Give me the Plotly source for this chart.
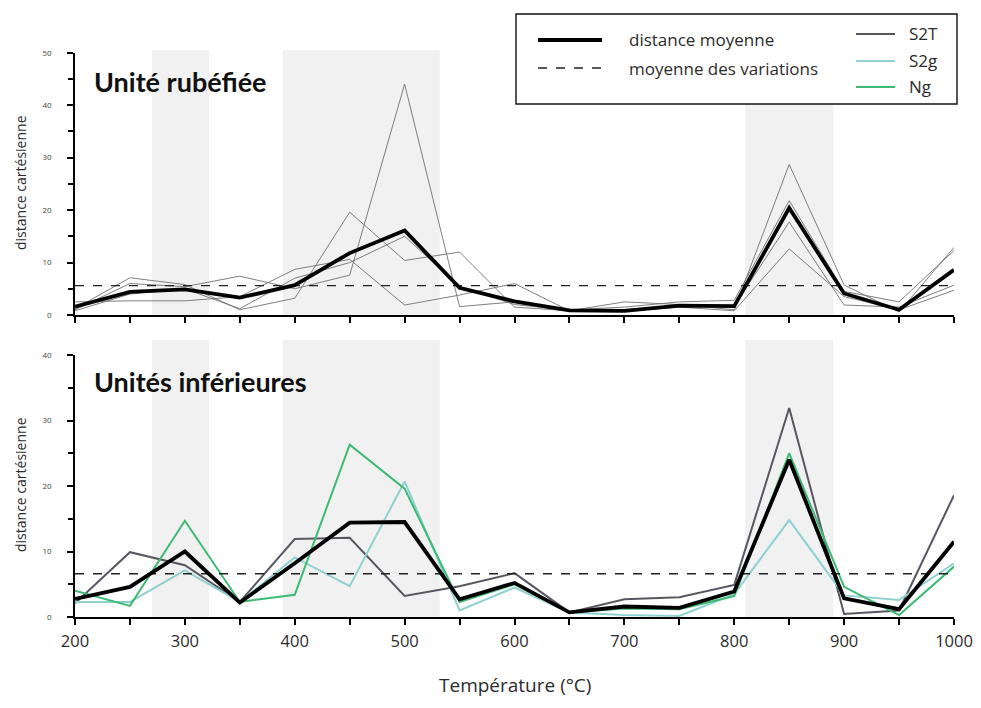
import plotly.graph_objects as go

# temperatures (°C)
temp = list(range(200, 1001, 50))

# Unité rubéfiée : individual samples (thin grey) and mean distance
rub_a = [1.2, 7.1, 5.8, 1.0, 3.2, 19.6, 10.4, 12.0, 1.5, 0.8, 2.5, 2.0, 1.0, 28.7, 5.7, 0.6, 12.9]
rub_b = [1.0, 6.0, 5.4, 7.4, 5.0, 7.6, 44.0, 1.6, 2.5, 1.0, 1.5, 2.5, 2.8, 21.8, 4.5, 2.5, 12.3]
rub_c = [2.5, 2.7, 2.7, 3.5, 8.7, 10.6, 1.9, 3.8, 6.0, 0.8, 1.0, 1.8, 1.7, 17.7, 1.9, 1.5, 5.7]
rub_d = [0.8, 4.0, 5.0, 1.2, 7.0, 10.0, 15.0, 5.4, 2.0, 0.9, 0.7, 1.5, 0.8, 12.6, 3.5, 1.0, 4.7]
rub_mean = [1.6, 4.4, 4.9, 3.3, 5.7, 11.8, 16.1, 5.2, 2.6, 0.9, 0.8, 1.8, 1.7, 20.4, 4.1, 1.0, 8.6]
rub_var = 5.6

# Unités inférieures
s2t = [2.1, 9.9, 7.9, 2.3, 11.9, 12.1, 3.2, 4.7, 6.7, 0.7, 2.7, 3.0, 4.9, 31.9, 0.45, 1.0, 18.6]
s2g = [2.3, 2.3, 7.1, 2.3, 9.1, 4.7, 20.7, 1.0, 4.5, 0.7, 0.3, 0.15, 3.5, 14.8, 3.3, 2.6, 8.2]
ng = [4.0, 1.7, 14.7, 2.3, 3.4, 26.3, 19.6, 2.3, 5.0, 0.7, 1.3, 1.2, 3.2, 25.0, 4.6, 0.3, 7.7]
inf_mean = [2.75, 4.6, 10.0, 2.2, 8.2, 14.4, 14.5, 2.7, 5.2, 0.7, 1.6, 1.4, 3.9, 24.0, 2.85, 1.2, 11.5]
inf_var = 6.6

# shaded temperature intervals
bands = [(270, 322), (389, 532), (810, 890)]

c_s2t, c_s2g, c_ng = "#575762", "#8fd1d0", "#3dba73"
txt = "#2b2b2b"

fig = go.Figure()

for s in [rub_a, rub_b, rub_c, rub_d]:
    fig.add_trace(go.Scatter(x=temp, y=s, mode="lines", xaxis="x", yaxis="y",
                             line=dict(color="#707070", width=0.9)))
fig.add_trace(go.Scatter(x=[200, 1000], y=[rub_var] * 2, mode="lines", xaxis="x", yaxis="y",
                         line=dict(color="#222", width=1.3, dash="dash")))
fig.add_trace(go.Scatter(x=temp, y=rub_mean, mode="lines", xaxis="x", yaxis="y",
                         line=dict(color="black", width=3.8)))

for s, c in [(s2t, c_s2t), (s2g, c_s2g), (ng, c_ng)]:
    fig.add_trace(go.Scatter(x=temp, y=s, mode="lines", xaxis="x2", yaxis="y2",
                             line=dict(color=c, width=2)))
fig.add_trace(go.Scatter(x=[200, 1000], y=[inf_var] * 2, mode="lines", xaxis="x2", yaxis="y2",
                         line=dict(color="#222", width=1.3, dash="dash")))
fig.add_trace(go.Scatter(x=temp, y=inf_mean, mode="lines", xaxis="x2", yaxis="y2",
                         line=dict(color="black", width=3.8)))

# page has an 8 px body margin: figure occupies screen pixels 8..973 x 8..700
W, H = 965, 692
px = lambda v: (v - 8) / W
py = lambda v: 1 - (v - 8) / H

shapes = []
for x0, x1 in bands:
    shapes.append(dict(type="rect", xref="x", yref="paper", x0=x0, x1=x1, y0=py(316), y1=py(50),
                       fillcolor="#f1f1f1", line_width=0, layer="below"))
    shapes.append(dict(type="rect", xref="x", yref="paper", x0=x0, x1=x1, y0=py(617), y1=py(340),
                       fillcolor="#f1f1f1", line_width=0, layer="below"))

# legend box, drawn by hand
shapes.append(dict(type="rect", xref="paper", yref="paper", x0=px(516), x1=px(957), y0=py(104), y1=py(14),
                   fillcolor="white", line=dict(color="#111", width=1.4), layer="above"))
shapes.append(dict(type="line", xref="paper", yref="paper", x0=px(538), x1=px(602), y0=py(40), y1=py(40),
                   line=dict(color="black", width=4), layer="above"))
shapes.append(dict(type="line", xref="paper", yref="paper", x0=px(538), x1=px(602), y0=py(68), y1=py(68),
                   line=dict(color="#222", width=1.3, dash="dash"), layer="above"))
for yy, c in [(34, c_s2t), (61, c_s2g), (87, c_ng)]:
    shapes.append(dict(type="line", xref="paper", yref="paper", x0=px(856), x1=px(895), y0=py(yy), y1=py(yy),
                       line=dict(color=c, width=2), layer="above"))

ann = []
for t, x, y in [("distance moyenne", 627, 40), ("moyenne des variations", 627, 68),
                ("S2T", 907, 33), ("S2g", 907, 60), ("Ng", 907, 87)]:
    ann.append(dict(text=t, xref="paper", yref="paper", x=px(x), y=py(y), xanchor="left", yanchor="middle",
                    showarrow=False, font=dict(family="Open Sans", size=17, color=txt)))
ann.append(dict(text="<b>Unité rubéfiée</b>", xref="paper", yref="paper", x=px(92), y=py(82),
                xanchor="left", yanchor="middle", showarrow=False,
                font=dict(family="Lato", size=27, color="#111")))
ann.append(dict(text="<b>Unités inférieures</b>", xref="paper", yref="paper", x=px(92), y=py(381),
                xanchor="left", yanchor="middle", showarrow=False,
                font=dict(family="Lato", size=27, color="#111")))
for yc in [183, 485]:
    ann.append(dict(text="distance cartésienne", xref="paper", yref="paper", x=px(20), y=py(yc),
                    textangle=-90, showarrow=False, xanchor="center", yanchor="middle",
                    font=dict(family="Open Sans", size=14, color=txt)))
ann.append(dict(text="Température (°C)", xref="paper", yref="paper", x=px(515), y=py(699),
                showarrow=False, xanchor="center", yanchor="bottom", borderpad=0,
                font=dict(family="Open Sans", size=19, color=txt)))

xcommon = dict(range=[200, 1000], showline=True, linecolor="black", linewidth=1.6, ticks="outside",
               ticklen=6, tickwidth=1.5, tickcolor="black", dtick=100, tick0=200,
               minor=dict(ticks="outside", ticklen=6, dtick=50, tickcolor="black", tickwidth=1.5),
               showgrid=False, zeroline=False, automargin=False, domain=[px(75), px(954)])
ycommon = dict(showline=True, linecolor="black", linewidth=1.6, ticks="outside", ticklen=6, tickwidth=1.5,
               tickcolor="black", dtick=10, showgrid=False, zeroline=False, automargin=False,
               minor=dict(ticks="outside", ticklen=5, dtick=5, tickcolor="black", tickwidth=1.5),
               tickfont=dict(family="Open Sans", size=8, color="#444"), ticklabelstandoff=14)

fig.update_layout(
    width=W, height=H, margin=dict(l=0, r=0, t=0, b=0),
    paper_bgcolor="white", plot_bgcolor="rgba(0,0,0,0)", showlegend=False,
    xaxis=dict(xcommon, anchor="y", showticklabels=False),
    yaxis=dict(ycommon, range=[0, 50], domain=[py(315), py(52.7)], anchor="x"),
    xaxis2=dict(xcommon, anchor="y2", tickfont=dict(family="Open Sans", size=16.5, color=txt),
                ticklabelstandoff=2, ticklabeloverflow="allow"),
    yaxis2=dict(ycommon, range=[0, 40], domain=[py(617), py(355)], anchor="x2"),
    shapes=shapes, annotations=ann,
)

fig.write_html("out.html")
